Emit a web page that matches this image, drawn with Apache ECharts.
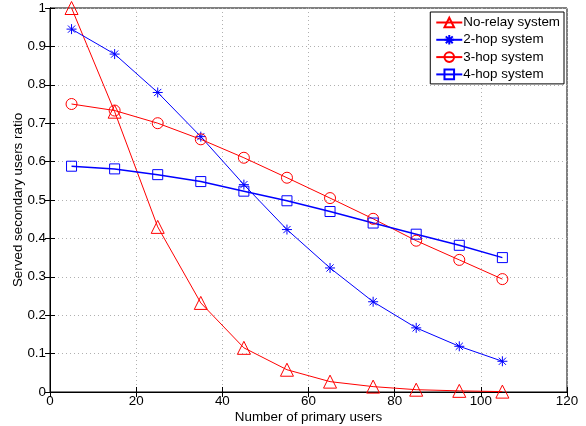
<!DOCTYPE html>
<html><head><meta charset="utf-8">
<script src="https://cdn.jsdelivr.net/npm/echarts@6/dist/echarts.min.js"></script>
<style>html,body{margin:0;padding:0;background:#fff}#c{width:586px;height:426px}</style>
</head><body><div id="c"></div>
<script>
const xValues = [5, 15, 25, 35, 45, 55, 65, 75, 85, 95, 105];
const noRelay = [1.0, 0.73, 0.43, 0.232, 0.115, 0.058, 0.027, 0.014, 0.006, 0.003, 0.001];
const hop2 = [0.945, 0.88, 0.78, 0.665, 0.54, 0.423, 0.323, 0.235, 0.167, 0.119, 0.080];
const hop3 = [0.75, 0.733, 0.70, 0.658, 0.61, 0.558, 0.505, 0.451, 0.394, 0.344, 0.294];
const hop4 = [0.588, 0.581, 0.566, 0.548, 0.523, 0.498, 0.47, 0.44, 0.411, 0.382, 0.350];
const seriesNames = ['No-relay system', '2-hop system', '3-hop system', '4-hop system'];

const pair = arr => xValues.map((x, i) => [x, arr[i]]);
const RED = '#ff0000', BLUE = '#0000ff';
const starPath = 'path://M0,-1L0,1M-1,0L1,0M-0.72,-0.72L0.72,0.72M-0.72,0.72L0.72,-0.72';
const font = 'Liberation Sans, Arial, sans-serif';

function mk(name, data, color, symbol, size, lw) {
  return {
    name, type: 'line', data: pair(data), symbol, symbolSize: size,
    lineStyle: { color, width: lw },
    itemStyle: { color: 'rgba(255,255,255,0)', borderColor: color, borderWidth: 1 },
    emphasis: { disabled: true }, animation: false, z: 3
  };
}
const chart = echarts.init(document.getElementById('c'));
const axisCommon = {
  axisLine: { show: true, lineStyle: { color: '#000', width: 1 } },
  axisTick: { show: true, inside: true, length: 5, lineStyle: { color: '#000' } },
};
chart.setOption({
  backgroundColor: '#fff',
  animation: false,
  grid: { left: 50, right: 19, top: 8, bottom: 34, containLabel: false, outerBoundsMode: 'none',
    show: true, borderColor: '#000', borderWidth: 1, backgroundColor: '#fff' },
  legend: {
    data: seriesNames, orient: 'vertical', right: 22, top: 12,
    backgroundColor: '#fff', borderColor: '#000', borderWidth: 1,
    padding: [4, 4, 3, 5], itemGap: 4.3, itemWidth: 26, itemHeight: 12,
    textStyle: { fontFamily: font, fontSize: 13.4, color: '#000', padding: [0, 0, 0, -4] }
  },
  xAxis: [{
    type: 'value', min: 0, max: 120, interval: 20, position: 'bottom',
    name: 'Number of primary users', nameLocation: 'middle', nameGap: 19, nameMoveOverlap: false,
    nameTextStyle: { fontFamily: font, fontSize: 13.4, color: '#000' },
    ...axisCommon,
    axisLabel: { fontFamily: font, fontSize: 13.4, color: '#000', margin: 3 },
    splitLine: { show: true, lineStyle: { color: '#b0b0b0', type: [1, 3], width: 1 } }
  }, {
    type: 'value', min: 0, max: 120, interval: 20, position: 'top',
    ...axisCommon, axisLabel: { show: false }, splitLine: { show: false }
  }],
  yAxis: [{
    type: 'value', min: 0, max: 1, interval: 0.1, position: 'left',
    name: 'Served secondary users ratio', nameLocation: 'middle', nameGap: 25, nameMoveOverlap: false,
    nameTextStyle: { fontFamily: font, fontSize: 13.4, color: '#000' },
    ...axisCommon,
    axisLabel: { fontFamily: font, fontSize: 13.4, color: '#000', margin: 4,
      formatter: v => (Math.round(v * 10) / 10).toString() },
    splitLine: { show: true, lineStyle: { color: '#b0b0b0', type: [1, 3], width: 1 } }
  }, {
    type: 'value', min: 0, max: 1, interval: 0.1, position: 'right',
    ...axisCommon, axisLabel: { show: false }, splitLine: { show: false }
  }],
  series: [
    mk(seriesNames[0], noRelay, RED, 'triangle', 13, 1),
    mk(seriesNames[1], hop2, BLUE, starPath, 10, 1),
    mk(seriesNames[2], hop3, RED, 'circle', 11, 1),
    mk(seriesNames[3], hop4, BLUE, 'rect', 10, 1.5)
  ]
});
</script></body></html>
